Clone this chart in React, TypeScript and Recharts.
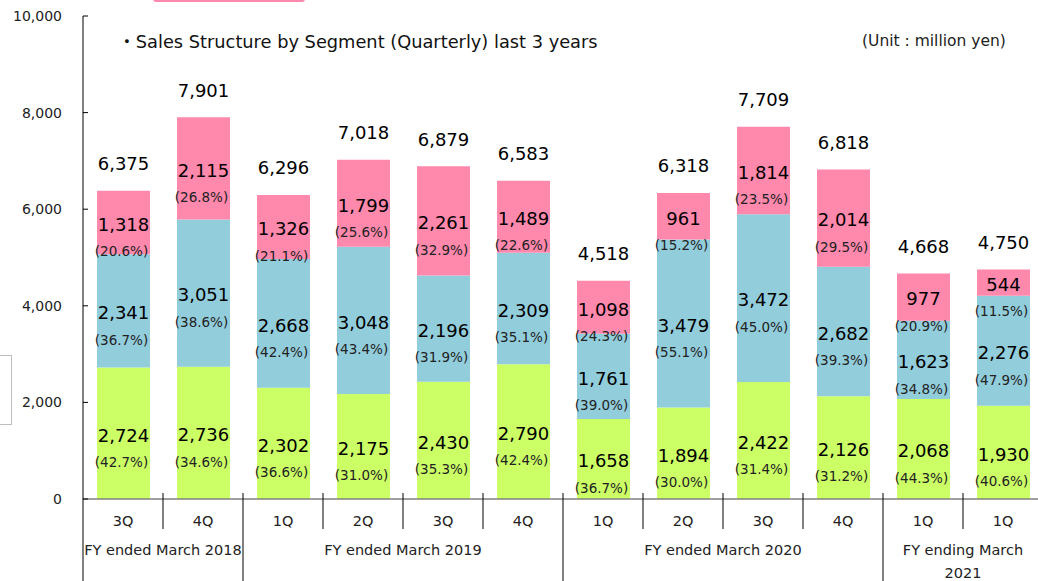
import React from 'react';
import { BarChart, Bar, XAxis, YAxis, LabelList } from 'recharts';

// quarter labels and fiscal-year groups
const quarters = ['3Q', '4Q', '1Q', '2Q', '3Q', '4Q', '1Q', '2Q', '3Q', '4Q', '1Q', '1Q'];
const fiscalYears = [
    { lines: ['FY ended March 2018'], size: 2 },
    { lines: ['FY ended March 2019'], size: 4 },
    { lines: ['FY ended March 2020'], size: 4 },
    { lines: ['FY ending March', '2021'], size: 2 },
];

// segment values (million yen) and shares
const greenValues = [2724, 2736, 2302, 2175, 2430, 2790, 1658, 1894, 2422, 2126, 2068, 1930];
const greenShares = [42.7, 34.6, 36.6, 31.0, 35.3, 42.4, 36.7, 30.0, 31.4, 31.2, 44.3, 40.6];
const blueValues = [2341, 3051, 2668, 3048, 2196, 2309, 1761, 3479, 3472, 2682, 1623, 2276];
const blueShares = [36.7, 38.6, 42.4, 43.4, 31.9, 35.1, 39.0, 55.1, 45.0, 39.3, 34.8, 47.9];
const pinkValues = [1318, 2115, 1326, 1799, 2261, 1489, 1098, 961, 1814, 2014, 977, 544];
const pinkShares = [20.6, 26.8, 21.1, 25.6, 32.9, 22.6, 24.3, 15.2, 23.5, 29.5, 20.9, 11.5];
const totals = [6375, 7901, 6296, 7018, 6879, 6583, 4518, 6318, 7709, 6818, 4668, 4750];

const yTicks = [0, 2000, 4000, 6000, 8000, 10000];

const data = quarters.map((q, i) => ({
    name: q,
    green: greenValues[i],
    blue: blueValues[i],
    pink: pinkValues[i],
}));

const FONT = '"DejaVu Sans", "Noto Sans CJK JP", sans-serif';
const CHART_W = 1043;
const CHART_H = 581;
const Y_AXIS_W = 83;
const X_AXIS_H = 82;
const BAND = (CHART_W - Y_AXIS_W) / quarters.length;

const fmt = (v: number) => v.toLocaleString('en-US');

// which quarter index starts / ends each fiscal year
const groupStart: Record<number, { lines: string[]; size: number }> = {};
const groupEnd = new Set<number>();
{
    let idx = 0;
    fiscalYears.forEach((g) => {
        groupStart[idx] = g;
        groupEnd.add(idx + g.size - 1);
        idx += g.size;
    });
}

const XTick = (props: any) => {
    const { x, y, payload, index } = props;
    const i = index ?? payload.index;
    const right = x + BAND / 2;
    const g = groupStart[i];
    return (
        <g>
            {i === 0 && <line x1={x - BAND / 2} x2={x - BAND / 2} y1={y} y2={CHART_H} stroke="#000" />}
            <line x1={right} x2={right} y1={y - 6} y2={groupEnd.has(i) ? CHART_H : y + 30} stroke="#000" />
            <text x={x} y={y + 27} textAnchor="middle" fontSize={14.5} fill="#222" fontFamily={FONT}>
                {payload.value}
            </text>
            {g &&
                g.lines.map((l, k) => (
                    <text
                        key={k}
                        x={x - BAND / 2 + (g.size * BAND) / 2}
                        y={y + 56 + k * 23}
                        textAnchor="middle"
                        fontSize={14.5}
                        fill="#222"
                        fontFamily={FONT}
                    >
                        {l}
                    </text>
                ))}
        </g>
    );
};

const YTick = (props: any) => {
    const { x, y, payload } = props;
    return (
        <g>
            <line x1={Y_AXIS_W} x2={Y_AXIS_W + 5} y1={y} y2={y} stroke="#000" />
            <text x={x} y={y} dy="0.35em" textAnchor="end" fontSize={14} fill="#222" fontFamily={FONT}>
                {fmt(payload.value)}
            </text>
        </g>
    );
};

const segmentLabel = (shares: number[], withTotal = false) => (props: any) => {
    const { x, y, width, height, value, index } = props;
    const cx = x + width / 2;
    const cy = y + height / 2;
    return (
        <g fontFamily={FONT}>
            <text x={cx} y={cy + 2} dy="0.35em" textAnchor="middle" fontSize={18} fill="#000">
                {fmt(value)}
            </text>
            <text x={cx - 2} y={cy + 29} dy="0.35em" textAnchor="middle" fontSize={13.5} fill="#222">
                ({shares[index].toFixed(1)}%)
            </text>
            {withTotal && (
                <text x={cx} y={y - 27} dy="0.35em" textAnchor="middle" fontSize={18} fill="#000">
                    {fmt(totals[index])}
                </text>
            )}
        </g>
    );
};

export default function App() {
    return (
        <div
            style={{
                position: 'fixed',
                left: 0,
                top: 0,
                width: 1038,
                height: 581,
                overflow: 'hidden',
                background: '#fff',
                fontFamily: FONT,
            }}
        >
            <BarChart
                width={CHART_W}
                height={CHART_H}
                data={data}
                margin={{ top: 16, right: 0, bottom: 0, left: 0 }}
            >
                <XAxis
                    dataKey="name"
                    height={X_AXIS_H}
                    tickLine={false}
                    tickSize={0}
                    tickMargin={0}
                    axisLine={{ stroke: '#7f7f7f', strokeWidth: 1.5 }}
                    tick={<XTick />}
                    interval={0}
                />
                <YAxis
                    width={Y_AXIS_W}
                    domain={[0, 10000]}
                    ticks={yTicks}
                    tickLine={false}
                    tickSize={0}
                    tickMargin={21}
                    axisLine={{ stroke: '#000' }}
                    tick={<YTick />}
                    interval={0}
                />
                <Bar dataKey="green" stackId="s" fill="#CCFF66" barSize={53} isAnimationActive={false}>
                    <LabelList dataKey="green" content={segmentLabel(greenShares)} />
                </Bar>
                <Bar dataKey="blue" stackId="s" fill="#92CDDC" barSize={53} isAnimationActive={false}>
                    <LabelList dataKey="blue" content={segmentLabel(blueShares)} />
                </Bar>
                <Bar dataKey="pink" stackId="s" fill="#FF88AD" barSize={53} isAnimationActive={false}>
                    <LabelList dataKey="pink" content={segmentLabel(pinkShares, true)} />
                </Bar>
            </BarChart>
            <div
                style={{
                    position: 'absolute',
                    left: 118,
                    top: 27,
                    fontSize: 17.8,
                    color: '#111',
                    whiteSpace: 'nowrap',
                }}
            >
                ・Sales Structure by Segment (Quarterly) last 3 years
            </div>
            <div
                style={{
                    position: 'absolute',
                    left: 862,
                    top: 32,
                    fontSize: 15.5,
                    color: '#222',
                    whiteSpace: 'nowrap',
                }}
            >
                (Unit : million yen)
            </div>
            <div
                style={{
                    position: 'absolute',
                    left: 153,
                    top: -4,
                    width: 152,
                    height: 6,
                    borderRadius: 4,
                    background: '#FF88AD',
                }}
            />
            <div
                style={{
                    position: 'absolute',
                    left: -4,
                    top: 355,
                    width: 14,
                    height: 68,
                    border: '1.5px solid #bdbdbd',
                    background: '#fff',
                }}
            />
        </div>
    );
}
